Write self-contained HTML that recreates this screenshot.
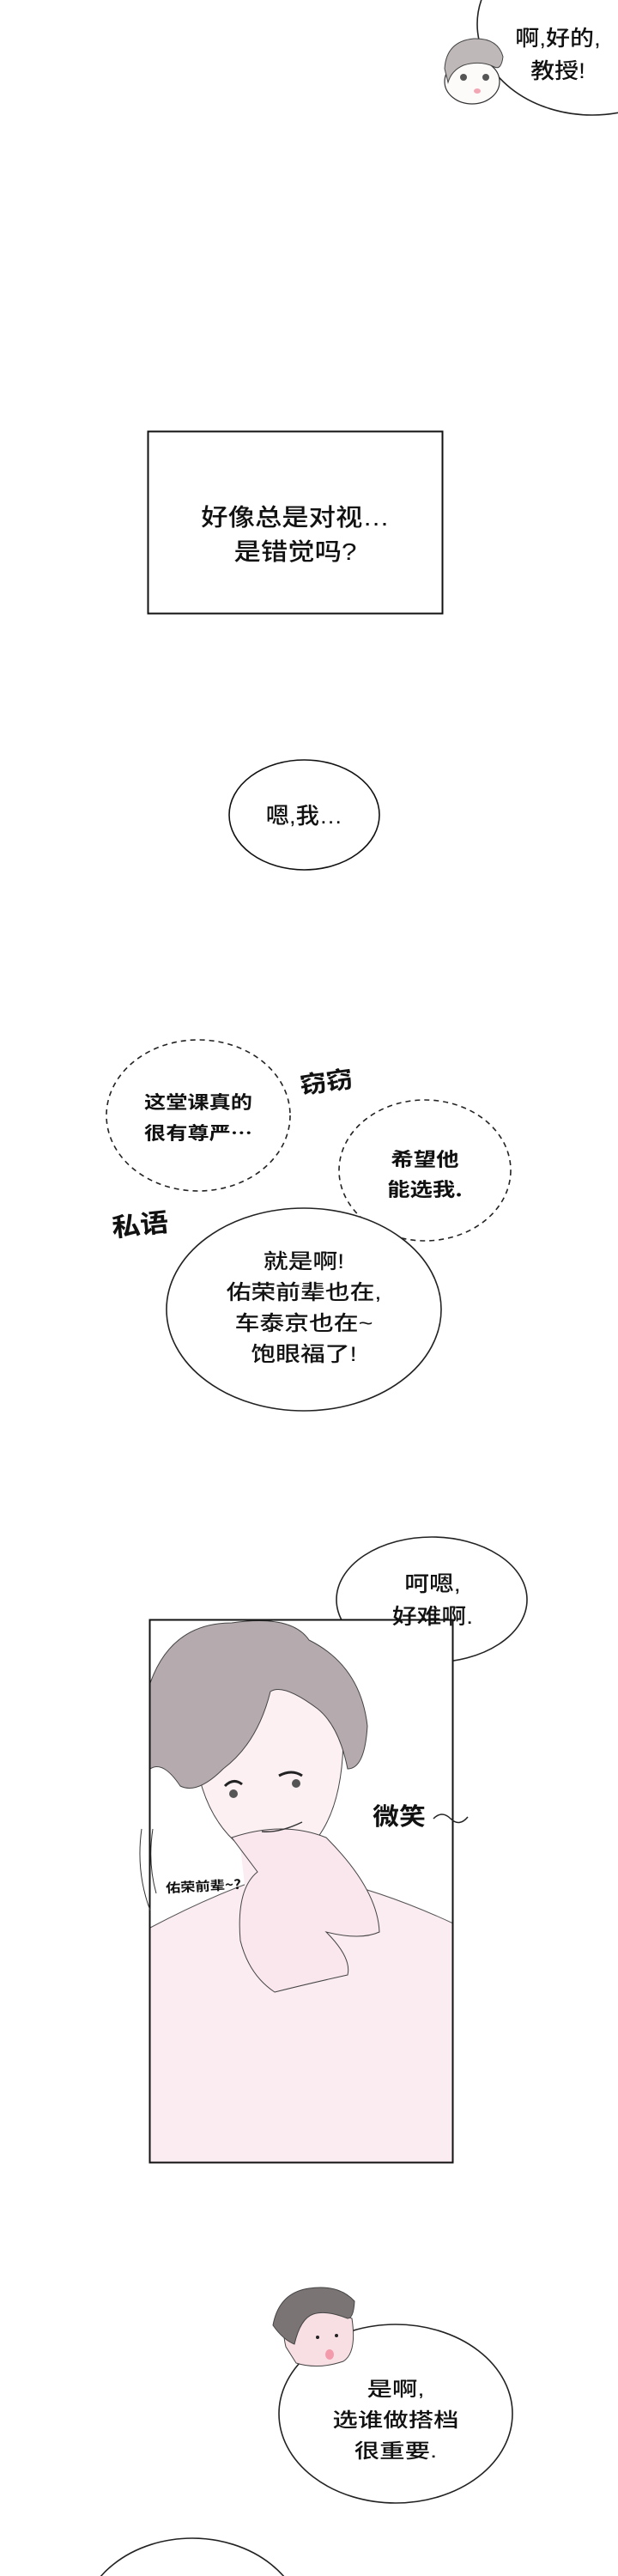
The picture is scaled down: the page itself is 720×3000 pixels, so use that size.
<!DOCTYPE html>
<html><head><meta charset="utf-8"><style>
html,body{margin:0;padding:0;background:#fff}
body{width:720px;height:3000px;position:relative;overflow:hidden;font-family:"Liberation Sans","Noto Sans CJK SC",sans-serif;color:#111}
.t{position:absolute;text-align:center;white-space:nowrap;transform-origin:center;font-weight:500}
.h{font-family:"WenQuanYi Zen Hei","Noto Sans CJK SC",sans-serif;font-weight:bold}
svg{position:absolute;left:0;top:0}
</style></head><body>
<svg width="720" height="3000" viewBox="0 0 720 3000">
  <ellipse cx="690" cy="28" rx="134" ry="106" fill="#fff" stroke="#222" stroke-width="1.6"/>
  <g>
    <ellipse cx="550" cy="95" rx="32" ry="26" fill="#fdfafa" stroke="#333" stroke-width="1.2"/>
    <path d="M518 80 Q520 48 552 45 Q580 44 586 66 Q584 82 576 78 Q560 70 540 76 Q526 82 522 96 Z" fill="#bfb8b8" stroke="#444" stroke-width="1"/>
    <circle cx="540" cy="90" r="4" fill="#555"/><circle cx="566" cy="90" r="4" fill="#555"/>
    <ellipse cx="556" cy="106" rx="4" ry="3" fill="#f3a7b5"/>
  </g>
  <rect x="172.5" y="502.5" width="343" height="212" fill="none" stroke="#111" stroke-width="2"/>
  <ellipse cx="354.5" cy="949" rx="87.5" ry="64" fill="none" stroke="#111" stroke-width="1.6"/>
  <ellipse cx="231" cy="1299" rx="107" ry="88" fill="none" stroke="#222" stroke-width="1.6" stroke-dasharray="6 5"/>
  <ellipse cx="495" cy="1363" rx="100" ry="82" fill="none" stroke="#222" stroke-width="1.6" stroke-dasharray="6 5"/>
  <ellipse cx="354" cy="1525" rx="160" ry="118" fill="#fff" stroke="#222" stroke-width="1.6"/>
  <ellipse cx="503" cy="1863" rx="111" ry="73" fill="#fff" stroke="#222" stroke-width="1.6"/>
  <clipPath id="pc"><rect x="175" y="1887" width="352" height="631"/></clipPath>
  <g clip-path="url(#pc)">
    <rect x="175" y="1887" width="352" height="631" fill="#fff"/>
    <path d="M175 2245 Q260 2200 330 2180 Q420 2190 528 2240 L528 2520 L175 2520 Z" fill="#fbecf1" stroke="#555" stroke-width="1"/>
    <path d="M225 2020 Q230 2110 280 2150 Q330 2170 370 2140 Q400 2100 400 2020 Q390 1960 330 1950 Q250 1960 225 2020 Z" fill="#fcf0f3" stroke="#444" stroke-width="1"/>
    <path d="M280 2150 L290 2240 L380 2240 L375 2140 Z" fill="#fbecf1"/>
    <path d="M175 1960 Q200 1890 270 1890 Q340 1880 360 1910 Q420 1940 428 2010 Q425 2060 405 2060 Q395 2010 370 1990 Q330 1960 315 1970 Q300 2030 260 2060 Q230 2090 210 2080 Q190 2050 175 2060 Z" fill="#b5abaf" stroke="#444" stroke-width="1"/>
    <path d="M270 2140 Q330 2120 380 2140 Q440 2200 442 2250 Q420 2260 380 2250 Q410 2280 405 2300 Q360 2310 320 2320 Q290 2300 280 2260 Q275 2200 300 2180 Z" fill="#fae6ed" stroke="#444" stroke-width="1"/>
    <path d="M262 2080 Q272 2070 282 2078 M325 2068 Q340 2060 352 2068" stroke="#222" stroke-width="3" fill="none"/>
    <circle cx="272" cy="2089" r="5" fill="#555"/><circle cx="345" cy="2077" r="5" fill="#555"/>
    <path d="M305 2133 Q325 2135 352 2122" stroke="#333" stroke-width="1.5" fill="none"/>
  </g>
  <rect x="174.5" y="1886.5" width="353" height="632" fill="none" stroke="#111" stroke-width="2"/>
  <path d="M165 2130 Q158 2180 175 2225 M178 2130 Q172 2170 182 2205" stroke="#333" stroke-width="1" fill="none"/>
  <path d="M505 2118 Q515 2108 525 2118 Q535 2128 545 2116" stroke="#222" stroke-width="1.5" fill="none"/>
  <ellipse cx="461" cy="2811" rx="136" ry="104" fill="#fff" stroke="#222" stroke-width="1.6"/>
  <g>
    <path d="M333 2733 Q325 2700 345 2690 Q380 2690 410 2700 Q416 2740 400 2750 Q370 2760 345 2752 Z" fill="#f8dfe4" stroke="#444" stroke-width="1"/>
    <path d="M318 2708 Q325 2670 360 2665 Q395 2660 413 2680 Q412 2700 405 2700 Q380 2690 365 2695 Q350 2700 343 2730 Q330 2725 318 2708 Z" fill="#7b7475" stroke="#444" stroke-width="1"/>
    <circle cx="370" cy="2722" r="2" fill="#222"/><circle cx="392" cy="2720" r="2" fill="#222"/>
    <ellipse cx="384" cy="2742" rx="5" ry="6" fill="#f39bab"/>
  </g>
  <ellipse cx="224" cy="3060" rx="130" ry="104" fill="#fff" stroke="#222" stroke-width="1.6"/>
</svg>

<div class="t" style="left:580px;top:26px;width:140px;font-size:25px;line-height:38px;transform:scaleX(1.12)">啊,好的,<br>教授!</div>
<div class="t" style="left:172px;top:583px;width:344px;font-size:28px;line-height:40px;transform:scaleX(1.12)">好像总是对视…<br>是错觉吗?</div>
<div class="t" style="left:267px;top:934px;width:175px;font-size:26px;line-height:32px;transform:scaleX(1.05)">嗯,我…</div>
<div class="t h" style="left:131px;top:1265px;width:200px;font-size:21px;line-height:36px;transform:scaleX(1.2)">这堂课真的<br>很有尊严…</div>
<div class="t h" style="left:335px;top:1239px;width:90px;font-size:28px;transform:rotate(-8deg) scaleX(1.1)">窃窃</div>
<div class="t h" style="left:395px;top:1332px;width:200px;font-size:22px;line-height:35px;transform:scaleX(1.2)">希望他<br>能选我.</div>
<div class="t h" style="left:118px;top:1402px;width:90px;font-size:30px;transform:rotate(-6deg) scaleX(1.1)">私语</div>
<div class="t" style="left:194px;top:1452px;width:320px;font-size:24px;line-height:36px;transform:scaleX(1.2)">就是啊!<br>佑荣前辈也在,<br>车泰京也在~<br>饱眼福了!</div>
<div class="t" style="left:393px;top:1826px;width:222px;font-size:25px;line-height:38px;transform:scaleX(1.15)">呵嗯,<br>好难啊.</div>
<div class="t h" style="left:420px;top:2094px;width:90px;font-size:28px;transform:scaleX(1.1)">微笑</div>
<div class="t h" style="left:176px;top:2186px;width:122px;font-size:15px;transform:rotate(-3deg) scaleX(1.15)">佑荣前辈~?</div>
<div class="t" style="left:325px;top:2764px;width:272px;font-size:23px;line-height:36px;transform:scaleX(1.28)">是啊,<br>选谁做搭档<br>很重要.</div>
</body></html>
